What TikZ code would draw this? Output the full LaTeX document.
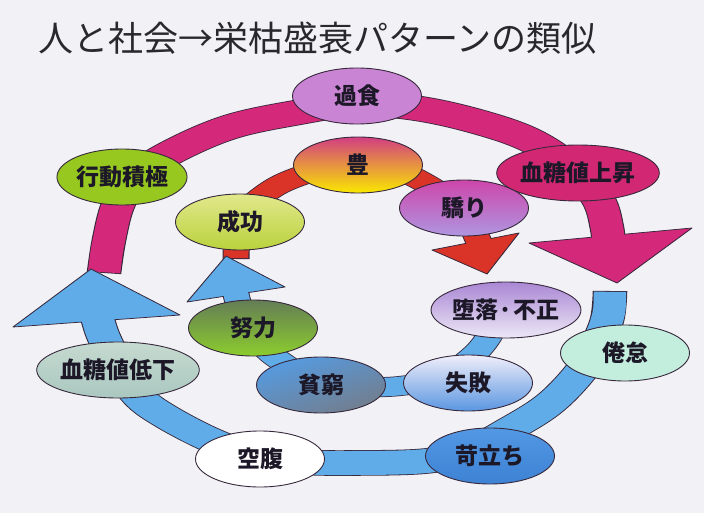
\documentclass[tikz,border=0pt]{standalone}
\usepackage{fontspec}
\newfontfamily\cjk{Noto Sans CJK JP}
\usetikzlibrary{shapes.geometric}
\pgfdeclarelayer{back}
\pgfdeclarelayer{bg}
\pgfsetlayers{back,bg,main}
\definecolor{bgc}{RGB}{242,242,246}
\definecolor{mag}{RGB}{212,40,122}
\definecolor{sky}{RGB}{95,172,232}
\definecolor{redb}{RGB}{218,52,40}
\definecolor{edge}{RGB}{55,40,60}
\definecolor{ink}{RGB}{28,24,40}
\definecolor{titlec}{RGB}{40,40,46}
\begin{document}
\begin{tikzpicture}[x=1pt,y=-1pt,
  bub/.style={ellipse, draw=edge, line width=0.9pt, minimum width=129pt, minimum height=56pt,
    inner sep=0pt, font=\cjk\bfseries\fontsize{23}{23}\selectfont, text=ink},
  bandedge/.style={draw=edge, line width=#1},
  headstyle/.style={draw=edge, line width=0.75pt, line join=round},
]
\begin{pgfonlayer}{back}
\fill[bgc] (0,0) rectangle (704,513);
\end{pgfonlayer}
\node[anchor=west, inner sep=0pt, font=\cjk\fontsize{35}{35}\selectfont, text=titlec] (title) at (38,38) {人と社会→栄枯盛衰パターンの類似};

% nodes
\node[bub, fill={rgb,255:red,202;green,132;blue,212}] (kashoku) at (357,96) {過食};
\node[bub, fill={rgb,255:red,150;green,200;blue,32}] (kodo) at (122,177) {行動積極};
\node[bub, top color={rgb,255:red,225;green,232;blue,140}, bottom color={rgb,255:red,185;green,210;blue,60}, draw=edge] (seiko) at (240,222) {成功};
\node[bub, top color={rgb,255:red,210;green,62;blue,130}, bottom color={rgb,255:red,250;green,232;blue,0}, draw=edge] (yutaka) at (358,165) {豊};
\node[bub, top color={rgb,255:red,205;green,70;blue,170}, bottom color={rgb,255:red,175;green,150;blue,225}, draw=edge] (ogori) at (464,208) {驕り};
\node[bub, fill={rgb,255:red,210;green,40;blue,115}] (joshou) at (578,173) {血糖値上昇};
\node[bub, top color={rgb,255:red,170;green,135;blue,212}, bottom color={rgb,255:red,236;green,232;blue,246}, draw=edge] (daraku) at (506,310) {堕落·不正};
\node[bub, fill={rgb,255:red,195;green,238;blue,222}] (kentai) at (625,353) {倦怠};
\node[bub, top color={rgb,255:red,240;green,238;blue,250}, bottom color={rgb,255:red,90;green,150;blue,225}, draw=edge] (shippai) at (468,383) {失敗};
\node[bub, top color={rgb,255:red,82;green,152;blue,228}, bottom color={rgb,255:red,62;green,130;blue,212}, draw=edge] (iradachi) at (490,456) {苛立ち};
\node[bub, top color={rgb,255:red,85;green,155;blue,225}, bottom color={rgb,255:red,115;green,125;blue,140}, shading angle=20, draw=edge] (hinkyu) at (321,385) {貧窮};
\node[bub, top color={rgb,255:red,100;green,125;blue,85}, bottom color={rgb,255:red,140;green,205;blue,45}, draw=edge] (doryoku) at (253,328) {努力};
\node[bub, top color={rgb,255:red,198;green,218;blue,208}, bottom color={rgb,255:red,170;green,200;blue,192}, draw=edge] (teika) at (118,370) {血糖値低下};
\node[bub, fill=white] (kufuku) at (260,459) {空腹};

\begin{pgfonlayer}{bg}
\begin{scope}[transform canvas={xscale=1.35}, x=0.740741pt]
% outer magenta loop
\def\magpath{plot[smooth,tension=0.6] coordinates {(104,273) (109,240) (118,205) (135,177) (170,153) (230,127) (300,112) (357,104) (415,108) (475,121) (530,140) (572,168) (598,199) (607,228) (609,252)}}
\draw[bandedge=25.6pt] \magpath;
\filldraw[headstyle, fill=mag] (529,243) -- (617,283) -- (692,228) -- cycle;
\draw[mag, line width=24pt, shorten <=0.8pt] \magpath;
% outer blue loop
\def\bluepath{plot[smooth,tension=0.6] coordinates {(610,291) (607,320) (594,350) (578,375) (548,405) (508,430) (468,451) (426,461) (352,463) (300,462) (258,457) (211,440) (165,416) (138,396) (120,368) (105,340) (98,320) (96,306)}}
\draw[bandedge=25.6pt] \bluepath;
\filldraw[headstyle, fill=sky] (13,327) -- (91,269) -- (180,315) -- cycle;
\draw[sky, line width=24pt, shorten <=0.8pt] \bluepath;
% inner red loop
\def\redpath{plot[smooth,tension=0.6] coordinates {(236,259) (238,235) (248,210) (262,196) (285,182) (320,170) (358,164) (398,171) (425,183) (450,200) (468,220) (478,240) (482,254)}}
\draw[bandedge=20pt] \redpath;
\filldraw[headstyle, fill=redb] (432,250) -- (487,274) -- (519,233) -- cycle;
\draw[redb, line width=18.5pt, shorten <=0.8pt] \redpath;
% inner blue loop
\def\ibluepath{plot[smooth,tension=0.6] coordinates {(500,312) (488,338) (470,358) (440,378) (400,386) (360,387) (321,385) (282,362) (262,345) (246,320) (238,302) (234,284)}}
\draw[bandedge=20pt] \ibluepath;
\filldraw[headstyle, fill=sky] (187,302) -- (226,256) -- (285,287) -- cycle;
\draw[sky, line width=18.5pt, shorten <=0.8pt] \ibluepath;
\end{scope}
\end{pgfonlayer}
\end{tikzpicture}
\end{document}
